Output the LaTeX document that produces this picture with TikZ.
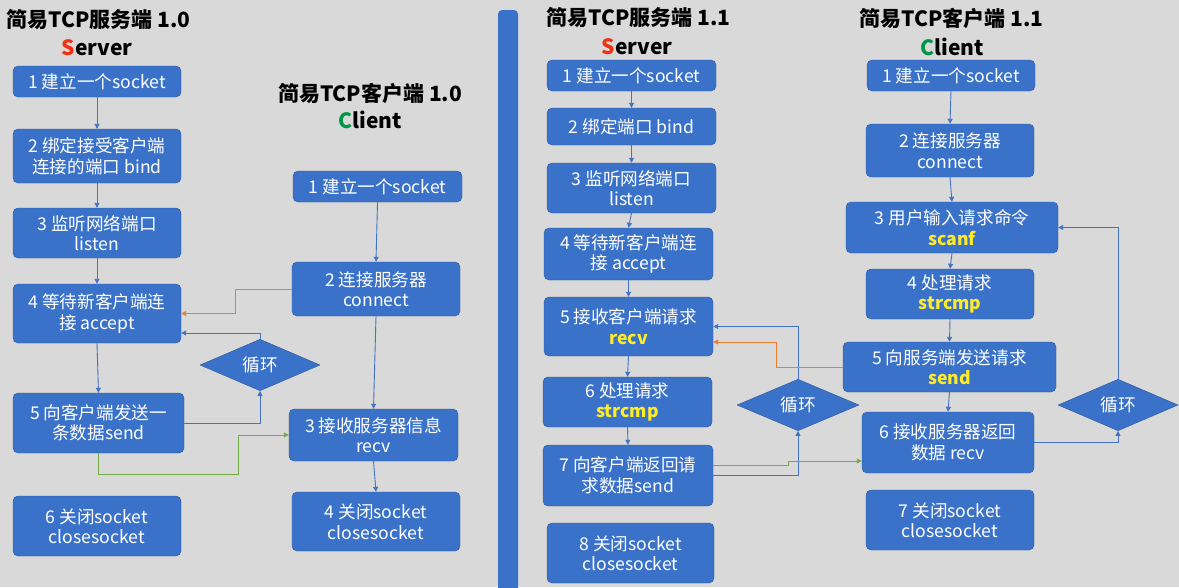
\documentclass[tikz,border=0pt]{standalone}
\usepackage{fontspec}
\newfontfamily\cjk{Noto Sans CJK SC}
\usetikzlibrary{arrows.meta,shapes.geometric,positioning,calc}
\definecolor{boxblue}{RGB}{58,114,202}
\definecolor{boxedge}{RGB}{47,85,151}
\definecolor{lineblue}{RGB}{68,114,196}
\definecolor{lineorange}{RGB}{237,125,49}
\definecolor{linegreen}{RGB}{112,173,71}
\definecolor{bggray}{RGB}{217,217,217}
\definecolor{srvred}{RGB}{240,50,20}
\definecolor{cltgreen}{RGB}{0,150,70}
\definecolor{apiyellow}{RGB}{255,235,40}
\newcommand\apicall[1]{\textcolor{apiyellow}{\bfseries #1}}

\begin{document}
\begin{tikzpicture}[x=1pt,y=-1pt,
  every node/.style={font=\cjk\fontsize{17.6}{20.5}\selectfont},
  stepbox/.style={draw=boxedge,fill=boxblue,rounded corners=5pt,text=white,
        align=center,inner sep=0pt},
  sz/.style 2 args={minimum width=#1pt,minimum height=#2pt},
  loopbox/.style={diamond,draw=boxedge,fill=boxblue,text=white,inner sep=0pt},
  title/.style={font=\cjk\bfseries\fontsize{21}{25}\selectfont},
  flow/.style={-{Triangle[width=5pt,length=5pt]},draw=lineblue,line width=0.9pt},
  askline/.style={flow,draw=lineorange},
  replyline/.style={flow,draw=linegreen}]
  \useasboundingbox (0,0) rectangle (1179,587);
  \fill[bggray] (0,0) rectangle (1179,587);
  \fill[boxblue,rounded corners=4pt] (498,10) rectangle (518,600);

  % server 1.0
  \node[title] (srvtitleA) at (98.5,20) {简易TCP服务端 1.0};
  \node[title] (srvroleA) at (97,48) {\textcolor{srvred}{S}erver};
  \node[stepbox,sz={168}{31}] (s1) at (97,81.5) {1 建立一个socket};
  \node[stepbox,sz={168}{54}] (s2) at (97,156) {2 绑定接受客户端\\连接的端口 bind};
  \node[stepbox,sz={168}{50}] (s3) at (97,233) {3 监听网络端口\\listen};
  \node[stepbox,sz={168}{59}] (s4) at (97,313.5) {4 等待新客户端连\\接 accept};
  \node[stepbox,sz={171}{60}] (s5) at (98.5,423) {5 向客户端发送一\\条数据send};
  \node[stepbox,sz={168}{60}] (s6) at (97,526) {6 关闭socket\\closesocket};
  \node[loopbox,minimum width=120pt,minimum height=45pt] (loopA) at (260,365) {循环};

  % client 1.0
  \node[title] (cltitleA) at (370,93) {简易TCP客户端 1.0};
  \node[title] (clroleA) at (370,120) {\textcolor{cltgreen}{C}lient};
  \node[stepbox,sz={169}{31}] (c1) at (377.5,186.5) {1 建立一个socket};
  \node[stepbox,sz={168}{54}] (c2) at (376,289) {2 连接服务器\\connect};
  \node[stepbox,sz={169}{52}] (c3) at (373.5,435) {3 接收服务器信息\\recv};
  \node[stepbox,sz={168}{59}] (c4) at (376,521.5) {4 关闭socket\\closesocket};

  \draw[flow] (s1) -- (s2);
  \draw[flow] (s2) -- (s3);
  \draw[flow] (s3) -- (s4);
  \draw[flow] (s4.south) -- (s5.north);
  \draw[flow] (s5.east) -| (loopA.south);
  \draw[flow] (loopA.north) |- ([yshift=-19.5pt]s4.east);
  \draw[flow] (c1.south) -- (c2.north);
  \draw[flow] (c2.south) -- (c3.north);
  \draw[flow] (c3.south) -- (c4.north);
  \draw[askline] (c2.west) -- ++(-56,0) |- (s4.east);
  \draw[replyline] (s5.south) -- ++(0,21) -- ++(140,0) |- (c3.west);

  % server 1.1
  \node[title] (srvtitleB) at (638.5,18) {简易TCP服务端 1.1};
  \node[title] (srvroleB) at (637,47) {\textcolor{srvred}{S}erver};
  \node[stepbox,sz={169}{31}] (t1) at (631.5,75.5) {1 建立一个socket};
  \node[stepbox,sz={169}{37}] (t2) at (631.5,126.5) {2 绑定端口 bind};
  \node[stepbox,sz={169}{50}] (t3) at (631.5,188) {3 监听网络端口\\listen};
  \node[stepbox,sz={169}{52}] (t4) at (628.5,254) {4 等待新客户端连\\接 accept};
  \node[stepbox,sz={169}{59}] (t5) at (628.5,326.5) {5 接收客户端请求\\\apicall{recv}};
  \node[stepbox,sz={169}{50}] (t6) at (627.5,402) {6 处理请求\\\apicall{strcmp}};
  \node[stepbox,sz={170}{61}] (t7) at (628,475.5) {7 向客户端返回请\\求数据send};
  \node[stepbox,sz={167}{60}] (t8) at (630.5,553) {8 关闭socket\\closesocket};
  \node[loopbox,minimum width=122pt,minimum height=44pt] (loopB) at (798,405) {循环};

  % client 1.1
  \node[title] (cltitleB) at (951.5,18) {简易TCP客户端 1.1};
  \node[title] (clroleB) at (952,47) {\textcolor{cltgreen}{C}lient};
  \node[stepbox,sz={168}{31}] (d1) at (951,75.5) {1 建立一个socket};
  \node[stepbox,sz={168}{53}] (d2) at (950,150.5) {2 连接服务器\\connect};
  \node[stepbox,sz={212}{51}] (d3) at (952,227.5) {3 用户输入请求命令\\\apicall{scanf}};
  \node[stepbox,sz={168}{50}] (d4) at (950,294) {4 处理请求\\\apicall{strcmp}};
  \node[stepbox,sz={213}{50}] (d5) at (949.5,367) {5 向服务端发送请求\\\apicall{send}};
  \node[stepbox,sz={172}{61}] (d6) at (948,442.5) {6 接收服务器返回\\数据 recv};
  \node[stepbox,sz={168}{60}] (d7) at (950,520) {7 关闭socket\\closesocket};
  \node[loopbox,minimum width=120pt,minimum height=45pt] (loopC) at (1118,405) {循环};

  \draw[flow] (t1.south) -- (t2.north);
  \draw[flow] (t2.south) -- (t3.north);
  \draw[flow] (t3.south) -- (t4.north);
  \draw[flow] (t4.south) -- (t5.north);
  \draw[flow] (t5.south) -- (t6.north);
  \draw[flow] (t6.south) -- (t7.north);
  \draw[flow] (t7.east) -| (loopB.south);
  \draw[flow] (loopB.north) |- (t5.east);
  \draw[flow] (d1.south) -- (d2.north);
  \draw[flow] (d2.south) -- (d3.north);
  \draw[flow] (d3.south) -- (d4.north);
  \draw[flow] (d4.south) -- (d5.north);
  \draw[flow] (d5.south) -- (d6.north);
  \draw[flow] (d6.east) -| (loopC.south);
  \draw[flow] (loopC.north) |- (d3.east);
  \draw[askline] (d5.west) -- ++(-66,0) |- ([yshift=-15.5pt]t5.east);
  \draw[replyline] ([yshift=10.5pt]t7.east) -- ++(75,0) |- ([yshift=-18.5pt]d6.west);
\end{tikzpicture}
\end{document}
